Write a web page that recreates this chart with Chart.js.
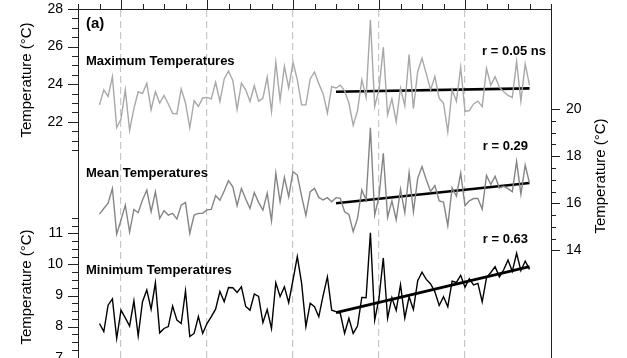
<!DOCTYPE html>
<html>
<head>
<meta charset="utf-8">
<script src="https://cdn.jsdelivr.net/npm/chart.js@4.4.0/dist/chart.umd.min.js"></script>
<style>
  html, body { margin: 0; padding: 0; background: #fff; }
  canvas { display: block; }
</style>
</head>
<body>
<canvas id="chart" width="627" height="358"></canvas>
<script>
// yearly values 1915-2015
const startYear = 1915;
const maxTemp = [
  22.9, 23.7, 23.35, 24.4, 21.7, 22.15, 23.7, 21.55, 22.7, 23.6,
  23.5, 24.05, 22.65, 23.6, 23.0, 23.4, 22.95, 22.45, 22.42, 23.75,
  23.0, 21.68, 23.12, 22.82, 23.27, 23.3, 23.22, 24.1, 23.08, 24.28,
  24.7, 24.2, 22.65, 24.06, 23.7, 23.08, 23.92, 23.1, 23.25, 24.38,
  22.55, 25.16, 23.15, 24.95, 23.8, 25.16, 24.24, 22.9, 22.9, 24.28,
  24.65, 24.03, 23.5, 22.47, 23.87, 23.8, 23.95, 23.65, 23.0, 21.82,
  22.58, 24.24, 23.3, 27.43, 22.82, 23.71, 25.97, 22.38, 23.22, 22.0,
  23.8, 22.86, 25.58, 22.7, 24.68, 25.38, 24.55, 23.7, 24.41, 23.25,
  23.0, 21.47, 23.7, 23.1, 24.9, 22.55, 22.6, 22.95, 23.1, 22.8,
  24.84, 23.95, 24.4, 23.84, 23.6, 23.4, 23.3, 25.2, 23.1, 25.08, 23.95
];
const meanTemp = [
  15.54, 15.78, 16.0, 16.63, 14.69, 15.29, 15.92, 14.78, 15.74, 15.6,
  16.14, 16.56, 15.64, 16.49, 15.36, 15.69, 15.5, 15.57, 15.33, 15.92,
  16.04, 14.72, 15.5, 15.57, 15.57, 15.72, 15.74, 16.33, 16.13, 16.52,
  16.96, 16.7, 15.9, 16.63, 16.18, 15.78, 16.45, 16.04, 15.71, 16.43,
  15.26, 17.28, 16.06, 17.1, 16.28, 17.34, 17.2, 16.3, 15.48, 16.49,
  16.63, 16.25, 16.14, 16.24, 16.06, 16.24, 16.21, 15.64, 15.53, 14.79,
  15.36, 16.56, 16.14, 19.21, 15.5, 16.28, 18.12, 15.4, 16.1, 15.3,
  16.6, 15.6, 17.3, 15.64, 17.06, 17.56, 17.0, 16.5, 16.75, 16.1,
  16.05, 15.05, 16.65, 16.3, 17.28, 15.9, 16.1, 16.2, 16.2, 15.75,
  17.18, 16.8, 17.15, 16.65, 16.72, 16.62, 16.49, 17.78, 16.39, 17.62, 16.86
];
const minTemp = [
  8.1, 7.84, 8.69, 8.89, 7.62, 8.53, 8.28, 8.02, 8.83, 7.7,
  8.8, 9.18, 8.56, 9.41, 7.8, 7.94, 8.0, 8.66, 8.21, 8.1,
  9.15, 7.68, 7.78, 8.32, 7.78, 8.1, 8.32, 8.56, 9.13, 8.8,
  9.26, 9.25, 9.1, 9.28, 8.65, 8.53, 9.05, 8.97, 8.13, 8.55,
  7.94, 9.41, 8.97, 9.28, 8.77, 9.5, 10.25, 9.4, 8.0, 8.75,
  8.64, 8.32, 9.0, 9.6, 8.53, 8.48, 8.43, 7.78, 8.27, 7.78,
  8.02, 8.94, 8.93, 11.02, 8.21, 8.91, 10.21, 8.27, 8.93, 8.52,
  9.35, 8.28, 8.96, 8.55, 9.48, 9.75, 9.52, 9.37, 9.12, 8.68,
  8.96, 8.64, 9.46, 9.42, 9.65, 9.27, 9.54, 9.34, 9.39, 8.8,
  9.57, 9.74, 9.93, 9.6, 9.83, 10.14, 9.78, 10.36, 9.8, 10.11, 9.84
];
const years = maxTemp.map((_, i) => startYear + i);

// trend lines 1970-2015
const trendYears = [1970, 2015];
const maxTrend = [23.6, 23.78];
const meanTrend = [16.0, 16.86];
const minTrend = [8.45, 9.93];

// ticks
const yearTicks = [1910, 1915, 1920, 1925, 1930, 1935, 1940, 1945, 1950, 1955, 1960, 1965,
  1970, 1975, 1980, 1985, 1990, 1995, 2000, 2005, 2010, 2015, 2020];
const gridYears = [1920, 1940, 1960, 1980, 2000];
const maxTicks = [20.5, 21, 21.5, 22, 22.5, 23, 23.5, 24, 24.5, 25, 25.5, 26, 26.5, 27, 27.5, 28];
const maxLabels = [22, 24, 26, 28];
const minTicks = [7, 7.25, 7.5, 7.75, 8, 8.25, 8.5, 8.75, 9, 9.25, 9.5, 9.75, 10, 10.25, 10.5, 10.75, 11, 11.25, 11.5];
const minLabels = [7, 8, 9, 10, 11];
const meanTicks = [14, 14.5, 15, 15.5, 16, 16.5, 17, 17.5, 18, 18.5, 19, 19.5, 20];
const meanLabels = [14, 16, 18, 20];

const FONT = '"Liberation Sans", Arial, sans-serif';

function pts(xs, ys) {
  return xs.map((x, i) => ({ x: x, y: ys[i] }));
}

function yScale(position, min, max, ticks, labels, width, showBorder, showLabels) {
  return {
    type: 'linear',
    position: position,
    min: min,
    max: max,
    afterBuildTicks: s => { s.ticks = ticks.map(v => ({ value: v, major: labels.includes(v) })); },
    afterFit: s => { s.width = width; s.paddingTop = 0; s.paddingBottom = 0; },
    ticks: {
      display: showLabels,
      autoSkip: false,
      padding: 15,
      color: '#000',
      font: { family: FONT, size: 14 },
      callback: v => labels.includes(v) ? String(v) : ''
    },
    grid: { drawOnChartArea: false, drawTicks: false },
    border: { display: showBorder, color: '#222', width: 1 }
  };
}

// tick marks (long on labelled values) and the labels of the lower left axis
const tickMarks = {
  id: 'tickMarks',
  afterDraw(chart) {
    const ctx = chart.ctx;
    const left = chart.chartArea.left;
    ctx.save();
    ctx.strokeStyle = '#222';
    ctx.lineWidth = 1;
    ctx.beginPath();
    ['yMax', 'yMin'].forEach(id => {
      const s = chart.scales[id];
      s.ticks.forEach(t => {
        const y = Math.round(s.getPixelForValue(t.value)) + 0.5;
        const len = t.major ? 10 : 6;
        ctx.moveTo(left - len, y);
        ctx.lineTo(left, y);
      });
    });
    const r = chart.scales.yMean;
    r.ticks.forEach(t => {
      const y = Math.round(r.getPixelForValue(t.value)) + 0.5;
      const len = t.major ? 9 : 5;
      ctx.moveTo(r.left, y);
      ctx.lineTo(r.left + len, y);
    });
    const x = chart.scales.x;
    x.ticks.forEach(t => {
      const px = Math.round(x.getPixelForValue(t.value)) + 0.5;
      const len = t.major ? 9 : 5;
      ctx.moveTo(px, x.bottom - len);
      ctx.lineTo(px, x.bottom);
    });
    ctx.stroke();

    const m = chart.scales.yMin;
    ctx.fillStyle = '#000';
    ctx.font = '14px ' + FONT;
    ctx.textAlign = 'right';
    ctx.textBaseline = 'middle';
    minLabels.forEach(v => {
      ctx.fillText(String(v), left - 15, m.getPixelForValue(v));
    });
    ctx.restore();
  }
};

const annotate = {
  id: 'annotate',
  afterDraw(chart) {
    const ctx = chart.ctx;
    ctx.save();
    ctx.fillStyle = '#000';
    ctx.textBaseline = 'middle';
    ctx.textAlign = 'left';
    ctx.font = 'bold 15px ' + FONT;
    ctx.fillText('(a)', 86, 24);
    ctx.font = 'bold 13px ' + FONT;
    ctx.fillText('Maximum Temperatures', 86, 61);
    ctx.fillText('Mean Temperatures', 86, 173);
    ctx.fillText('Minimum Temperatures', 86, 270);
    ctx.textAlign = 'right';
    ctx.fillText('r = 0.05 ns', 546, 51);
    ctx.fillText('r = 0.29', 528, 146);
    ctx.fillText('r = 0.63', 528, 239);

    ctx.font = '15px ' + FONT;
    ctx.textAlign = 'center';
    [[27, 80], [27, 287], [601, 176]].forEach(p => {
      ctx.save();
      ctx.translate(p[0], p[1]);
      ctx.rotate(-Math.PI / 2);
      ctx.fillText('Temperature (\u00B0C)', 0, 0);
      ctx.restore();
    });
    ctx.restore();
  }
};

const ctx = document.getElementById('chart').getContext('2d');
new Chart(ctx, {
  type: 'line',
  data: {
    datasets: [
      { data: pts(years, maxTemp), yAxisID: 'yMax', borderColor: '#a8a8a8', borderWidth: 1.4 },
      { data: pts(years, meanTemp), yAxisID: 'yMean', borderColor: '#858585', borderWidth: 1.4 },
      { data: pts(years, minTemp), yAxisID: 'yMin', borderColor: '#000', borderWidth: 1.4 },
      { data: pts(trendYears, maxTrend), yAxisID: 'yMax', borderColor: '#000', borderWidth: 2.6 },
      { data: pts(trendYears, meanTrend), yAxisID: 'yMean', borderColor: '#000', borderWidth: 2.6 },
      { data: pts(trendYears, minTrend), yAxisID: 'yMin', borderColor: '#000', borderWidth: 2.6 }
    ]
  },
  options: {
    responsive: false,
    animation: false,
    events: [],
    layout: { padding: 0 },
    elements: { point: { radius: 0 }, line: { tension: 0, fill: false } },
    plugins: { legend: { display: false }, tooltip: { enabled: false } },
    scales: {
      x: {
        type: 'linear',
        position: 'top',
        min: 1910,
        max: 2020,
        afterBuildTicks: s => { s.ticks = yearTicks.map(v => ({ value: v, major: gridYears.includes(v) })); },
        afterFit: s => { s.height = 9; s.paddingLeft = 0; s.paddingRight = 0; },
        ticks: { display: false, autoSkip: false },
        grid: {
          drawTicks: false,
          lineWidth: 1.2,
          color: c => (c.tick && gridYears.includes(c.tick.value)) ? '#c8c8c8' : 'rgba(0,0,0,0)'
        },
        border: { display: true, color: '#222', width: 1, dash: [7, 4] }
      },
      yMax: yScale('left', 9.44, 28.0, maxTicks, maxLabels, 78, true, true),
      yMin: yScale('left', 6.99, 18.22, minTicks, minLabels, 0, false, false),
      yMean: yScale('right', 9.43, 24.25, meanTicks, meanLabels, 76, true, true)
    }
  },
  plugins: [tickMarks, annotate]
});
</script>
</body>
</html>
